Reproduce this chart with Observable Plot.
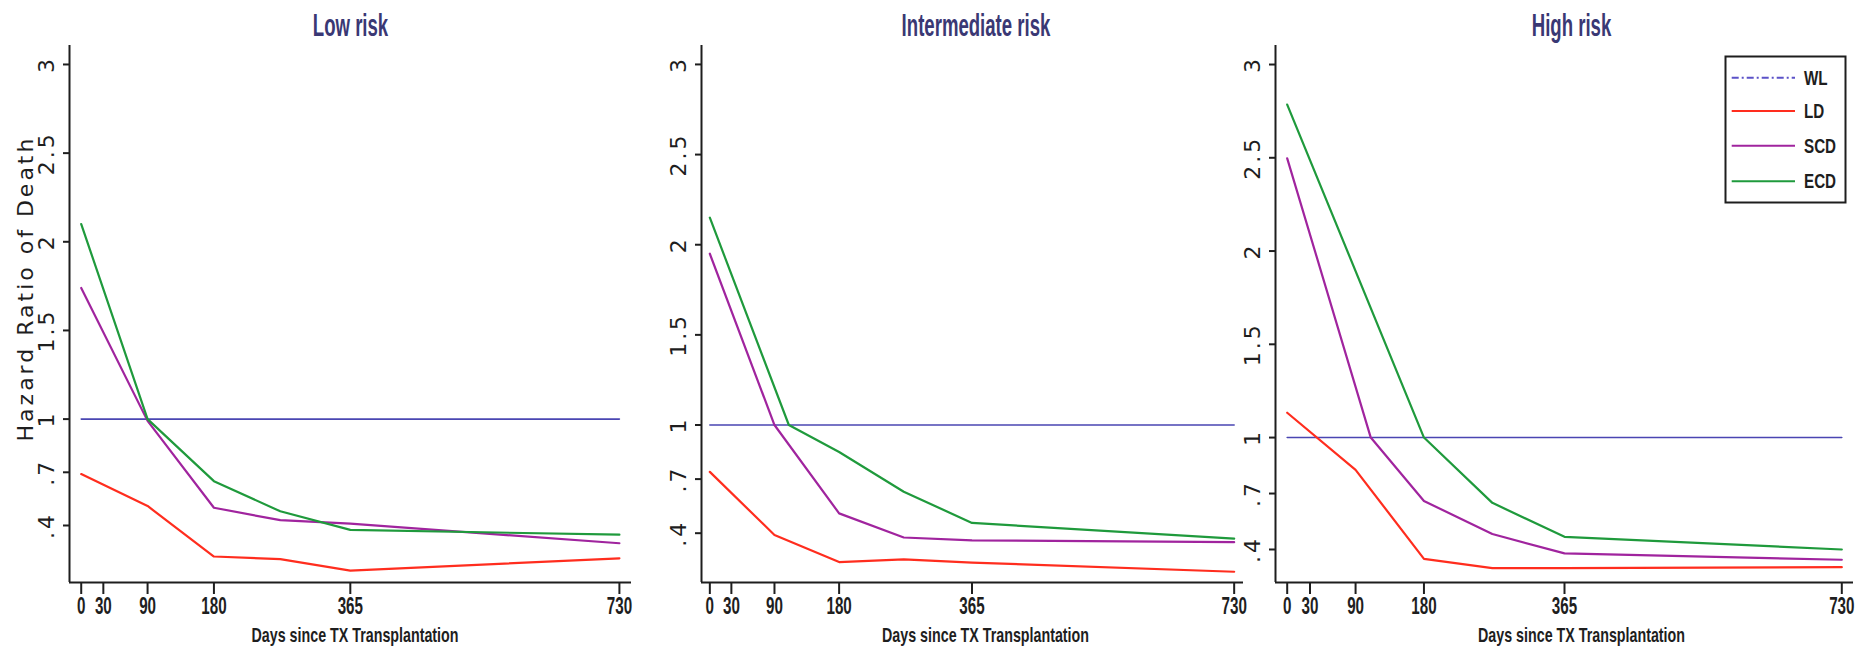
<!DOCTYPE html>
<html>
<head>
<meta charset="utf-8">
<script src="https://cdn.jsdelivr.net/npm/d3@7"></script>
<script src="https://cdn.jsdelivr.net/npm/@observablehq/plot@0.6"></script>
<style>
  body { margin: 0; background: #fff; }
  #chart { position: relative; width: 1868px; height: 650px; overflow: hidden; background: #fff; }
  .panel { position: absolute; top: 0; }
</style>
</head>
<body>
<div id="chart"></div>
<script>
// ---------- data ----------
const panelTitles = ["Low risk", "Intermediate risk", "High risk"];
const seriesNames = ["WL", "LD", "SCD", "ECD"];
const seriesColors = ["#4a46b2", "#ff2d1e", "#a0249e", "#1f9a3c"];
const dayTicks = [0, 30, 90, 180, 365, 730];
const hrTicks = [0.4, 0.7, 1, 1.5, 2, 2.5, 3];
const xLabel = "Days since TX Transplantation";
const yLabel = "Hazard Ratio of Death";

// [day, hazard ratio]
const wl = [[0, 1], [730, 1]];

const lowLD  = [[0, 0.69], [90, 0.51], [180, 0.225], [270, 0.21], [365, 0.145], [730, 0.215]];
const lowSCD = [[0, 1.74], [90, 0.99], [180, 0.50], [270, 0.43], [365, 0.41], [730, 0.30]];
const lowECD = [[0, 2.10], [90, 1.00], [180, 0.65], [270, 0.48], [365, 0.375], [730, 0.348]];

const midLD  = [[0, 0.74], [90, 0.39], [180, 0.24], [270, 0.255], [365, 0.237], [730, 0.186]];
const midSCD = [[0, 1.95], [90, 1.00], [180, 0.51], [270, 0.376], [365, 0.36], [730, 0.35]];
const midECD = [[0, 2.15], [110, 1.00], [180, 0.85], [270, 0.63], [365, 0.457], [730, 0.37]];

const highLD  = [[0, 1.133], [90, 0.827], [180, 0.35], [270, 0.30], [365, 0.30], [730, 0.305]];
const highSCD = [[0, 2.497], [110, 1.00], [180, 0.66], [270, 0.483], [365, 0.379], [730, 0.345]];
const highECD = [[0, 2.785], [180, 1.00], [270, 0.65], [365, 0.468], [730, 0.40]];

const panelSeries = [
  [wl, lowLD, lowSCD, lowECD],
  [wl, midLD, midSCD, midECD],
  [wl, highLD, highSCD, highECD]
];

// ---------- layout ----------
const layouts = [
  {left: 0,    width: 640, ml: 69, mr: 9,  xd: [-15.9, 746.4], yd: [0.0785, 3.107], titleDx: 0,   xlabDx: 4.5, ylabel: true},
  {left: 640,  width: 610, ml: 61, mr: 7,  xd: [-11.6, 743.0], yd: [0.1265, 3.105], titleDx: 3.5, xlabDx: 13,  ylabel: false},
  {left: 1240, width: 628, ml: 35, mr: 15, xd: [-15.4, 745.4], yd: [0.223, 3.102],  titleDx: 7,   xlabDx: 17,  ylabel: false}
];

const axisColor = "#1e1e1e";
const fmtHR = d => (d < 1 ? String(d).replace(/^0/, "") : String(d));

function groupTexts(svg, label) {
  return Array.from(svg.querySelectorAll("text")).filter(t => {
    const g = t.closest("g[aria-label]");
    return g && g.getAttribute("aria-label") === label;
  });
}
function contentTexts(svg, str) {
  return Array.from(svg.querySelectorAll("text")).filter(t => t.textContent === str);
}
function squeezeEl(t, sx) {
  const tr = t.getAttribute("transform") || "";
  const x = parseFloat(t.getAttribute("x")) || 0;
  t.setAttribute("transform", `${tr} translate(${x},0) scale(${sx},1) translate(${-x},0)`.trim());
}
function spaceEl(t, ls) {
  t.style.letterSpacing = ls;
  t.setAttribute("letter-spacing", ls);
}

const chart = document.getElementById("chart");

panelTitles.forEach((title, pi) => {
  const L = layouts[pi];
  const rows = [];
  panelSeries[pi].forEach((arr, si) => {
    arr.forEach(([day, hr]) => rows.push({series: seriesNames[si], day, hr}));
  });
  const wlRows = rows.filter(r => r.series === "WL");
  const otherRows = rows.filter(r => r.series !== "WL");

  const marks = [
    Plot.ruleX([L.xd[0]], {stroke: axisColor, strokeWidth: 2}),
    Plot.ruleY([L.yd[0]], {stroke: axisColor, strokeWidth: 2}),
    Plot.axisX(dayTicks, {
      anchor: "bottom", tickSize: 12, tickPadding: 3, label: null,
      stroke: axisColor, fill: axisColor, strokeWidth: 2,
      fontSize: 23, fontWeight: "bold", fontFamily: "Liberation Sans, Arial, sans-serif"
    }),
    Plot.axisY(hrTicks, {
      anchor: "left", tickSize: 6, tickPadding: 10, tickRotate: -90, label: null,
      tickFormat: fmtHR, stroke: axisColor, fill: axisColor, strokeWidth: 2,
      fontSize: 22, fontFamily: "DejaVu Sans, sans-serif"
    }),
    Plot.line(wlRows, {x: "day", y: "hr", z: "series", stroke: "series", strokeWidth: 1.6}),
    Plot.line(otherRows, {x: "day", y: "hr", z: "series", stroke: "series", strokeWidth: 2.2}),
    Plot.text([title], {
      frameAnchor: "top", dy: -10, dx: L.titleDx, lineAnchor: "bottom",
      fontSize: 31, fontWeight: "bold", fill: "#3a3874",
      fontFamily: "Liberation Sans, Arial, sans-serif"
    }),
    Plot.text([xLabel], {
      frameAnchor: "bottom", dy: 59, dx: L.xlabDx, lineAnchor: "bottom",
      fontSize: 21, fontWeight: "bold", fill: "#1e1e1e",
      fontFamily: "Liberation Sans, Arial, sans-serif"
    })
  ];
  if (L.ylabel) {
    marks.push(Plot.text([yLabel], {
      frameAnchor: "left", dx: -36.7, dy: -25.5, rotate: -90,
      textAnchor: "middle", lineAnchor: "bottom",
      fontSize: 22, fill: "#1e1e1e", fontFamily: "DejaVu Sans, sans-serif"
    }));
  }

  const svg = Plot.plot({
    width: L.width,
    height: 650,
    marginTop: 45,
    marginBottom: 68,
    marginLeft: L.ml,
    marginRight: L.mr,
    style: {background: "transparent", overflow: "visible", color: axisColor},
    x: {type: "linear", domain: L.xd},
    y: {type: "linear", domain: L.yd},
    color: {domain: seriesNames, range: seriesColors},
    marks
  });

  groupTexts(svg, "x-axis tick label").forEach(t => squeezeEl(t, 0.66));
  contentTexts(svg, title).forEach(t => squeezeEl(t, 0.6));
  contentTexts(svg, xLabel).forEach(t => squeezeEl(t, 0.68));
  groupTexts(svg, "y-axis tick label").forEach(t => spaceEl(t, "3px"));
  contentTexts(svg, yLabel).forEach(t => spaceEl(t, "3px"));

  const div = document.createElement("div");
  div.className = "panel";
  div.style.left = L.left + "px";
  div.style.width = L.width + "px";
  div.appendChild(svg);
  chart.appendChild(div);
});

// ---------- legend (High risk panel) ----------
const legend = d3.select("#chart").append("svg")
  .attr("class", "panel")
  .style("left", "1724px").style("top", "55px")
  .attr("width", 124).attr("height", 150);
legend.append("rect")
  .attr("x", 1.5).attr("y", 1.5).attr("width", 120).attr("height", 146)
  .attr("fill", "#fff").attr("stroke", "#1e1e1e").attr("stroke-width", 2);
const legendY = [22.7, 56, 90.7, 126.3];
seriesNames.forEach((name, i) => {
  legend.append("line")
    .attr("x1", 7.7).attr("x2", 71).attr("y1", legendY[i]).attr("y2", legendY[i])
    .attr("stroke", i === 0 ? "#5b52c8" : seriesColors[i])
    .attr("stroke-width", 2)
    .attr("stroke-dasharray", i === 0 ? "7,3,2,3" : null);
  legend.append("text")
    .attr("transform", `translate(80,${legendY[i] + 7}) scale(0.76,1)`)
    .attr("font-family", "Liberation Sans, Arial, sans-serif")
    .attr("font-weight", "bold").attr("font-size", 20).attr("fill", "#1e1e1e")
    .text(name);
});
</script>
</body>
</html>
